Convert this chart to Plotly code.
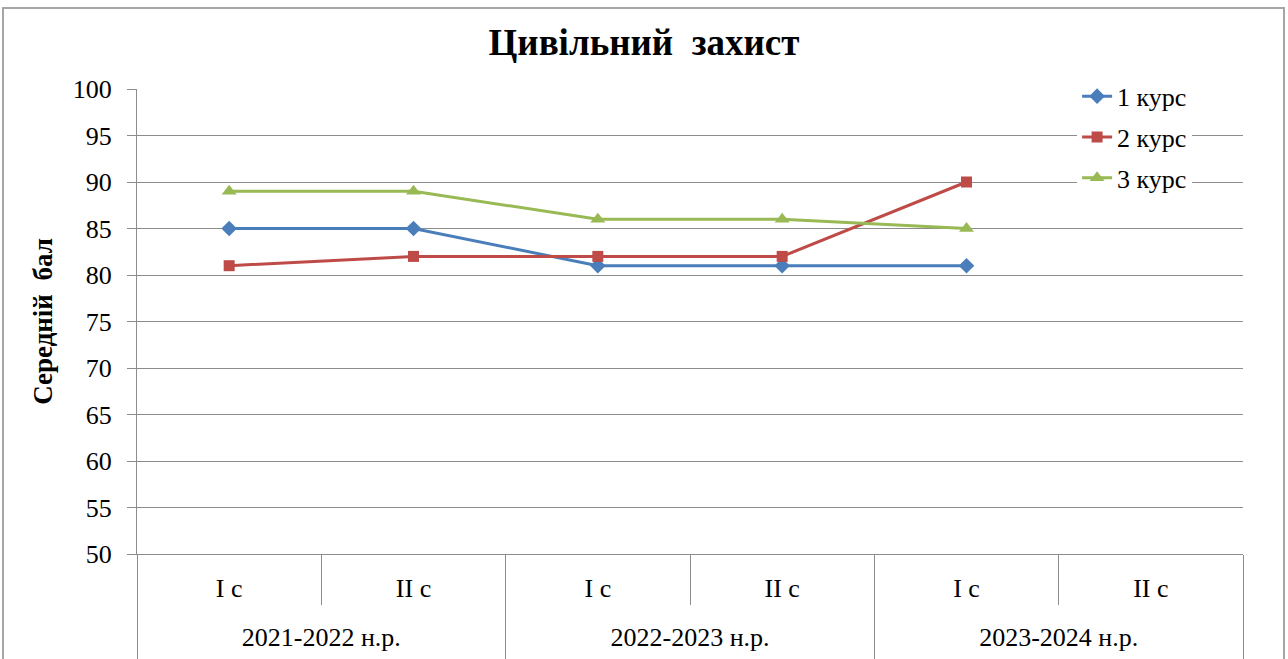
import plotly.graph_objects as go

years = ["2021-2022 н.р.", "2021-2022 н.р.", "2022-2023 н.р.", "2022-2023 н.р.", "2023-2024 н.р.", "2023-2024 н.р."]
semesters = ["I c", "II c", "I c", "II c", "I c", "II c"]

course1 = [85, 85, 81, 81, 81, None]
course2 = [81, 82, 82, 82, 90, None]
course3 = [89, 89, 86, 86, 85, None]

series = [
    ("1 курс", course1, "#4A7EBB", "diamond", 12),
    ("2 курс", course2, "#BE4B48", "square", 11),
    ("3 курс", course3, "#98B954", "triangle-up", 13),
]

FONT = "Liberation Serif"
GRID = "#8C8C8C"

# positions derived from the category lists
idx = list(range(len(semesters)))
sem_bounds = [i - 0.5 for i in range(len(semesters) + 1)]
year_names = []
for y in years:
    if y not in year_names:
        year_names.append(y)
year_centers = [sum(i for i, yy in enumerate(years) if yy == y) / years.count(y) for y in year_names]
year_bounds = [-0.5] + [max(i for i, yy in enumerate(years) if yy == y) + 0.5 for y in year_names]

fig = go.Figure()
for k, (name, vals, color, sym, size) in enumerate(series):
    fig.add_trace(go.Scatter(
        x=idx, y=vals, name=name, mode="lines+markers",
        line=dict(color=color, width=3),
        marker=dict(symbol=sym, size=size, color=color),
        legendgroup=f"g{k}",
    ))
# helper trace so the year axis is rendered
fig.add_trace(go.Scatter(x=year_centers, y=[None] * len(year_centers), xaxis="x2",
                         showlegend=False, hoverinfo="skip"))

fig.update_layout(
    width=1288, height=659,
    paper_bgcolor="white", plot_bgcolor="white",
    margin=dict(l=137, r=45, t=89, b=105, autoexpand=False),
    title=dict(text="<b>Цивільний  захист</b>", x=0.5, xref="container", y=1 - 42 / 659, yref="container",
               xanchor="center", yanchor="middle",
               font=dict(family=FONT, size=37, color="black")),
    font=dict(family=FONT, size=26, color="black"),
    legend=dict(x=0.85, y=1.035, xanchor="left", yanchor="top",
                bgcolor="white", font=dict(family=FONT, size=26, color="black"),
                tracegroupgap=4),
    showlegend=True,
    xaxis=dict(
        range=[-0.5, len(semesters) - 0.5],
        tickmode="array", tickvals=idx, ticktext=semesters,
        ticks="", showline=True, linecolor=GRID, linewidth=1,
        showgrid=False, zeroline=False,
        ticklabelstandoff=11,
        tickfont=dict(family=FONT, size=26, color="black"),
        minor=dict(tickmode="array", tickvals=sem_bounds, ticks="outside",
                   ticklen=50, tickcolor=GRID, tickwidth=1, showgrid=False),
    ),
    xaxis2=dict(
        overlaying="x", anchor="y", side="bottom",
        range=[-0.5, len(semesters) - 0.5],
        tickmode="array", tickvals=year_centers, ticktext=year_names,
        ticks="", showline=False, showgrid=False, zeroline=False,
        ticklabelstandoff=65,
        tickfont=dict(family=FONT, size=26, color="black"),
        minor=dict(tickmode="array", tickvals=year_bounds, ticks="outside",
                   ticklen=110, tickcolor=GRID, tickwidth=1, showgrid=False),
    ),
    yaxis=dict(
        range=[50, 100], dtick=5, showgrid=True, gridcolor=GRID, gridwidth=1,
        showline=True, linecolor=GRID, linewidth=1,
        ticks="outside", ticklen=9, tickcolor=GRID,
        ticklabelstandoff=10,
        tickfont=dict(family=FONT, size=26, color="black"),
        title=dict(text="<b>Середній  бал</b>", font=dict(family=FONT, size=27, color="black"), standoff=12),
        zeroline=False,
    ),
)

# outer chart frame
fig.add_shape(type="rect", xref="paper", yref="paper",
              x0=(3 - 137) / 1106, x1=(1284 - 137) / 1106, y0=(554 - 680) / 465, y1=(554 - 8) / 465,
              line=dict(color="#A6A6A6", width=2), fillcolor="rgba(0,0,0,0)", layer="below")

fig.write_html("out.html", config={"displayModeBar": False},
               post_script="document.body.style.margin='0px';")
